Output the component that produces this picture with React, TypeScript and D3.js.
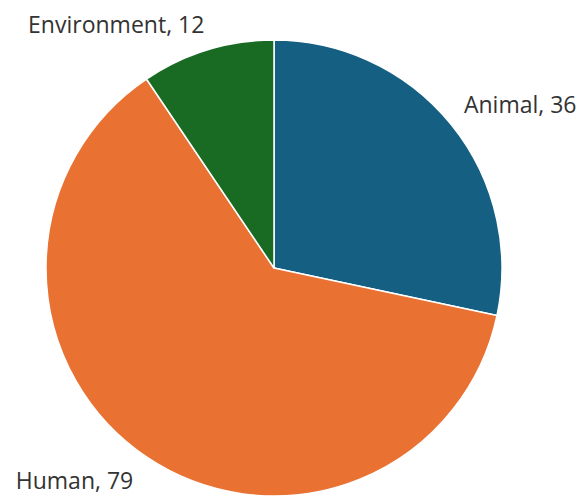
import React from "react";
import * as d3 from "d3";

const categories = ["Animal", "Human", "Environment"];
const values = [36, 79, 12];
const colors = ["#156082", "#E97132", "#196B24"];

const W = 584;
const H = 496;
const cx = 274;
const cy = 268;
const R = 228;
// label offsets relative to radius
const labelOffsets: [number, number][] = [
  [1.08, -0.72],
  [-0.875, 0.93],
  [-0.692, -1.072],
];

export default function App() {
  const data = categories.map((c, i) => ({ c, v: values[i], i }));
  const pie = d3.pie<any>().sort(null).value((d) => d.v);
  const arcs = pie(data);
  const arc = d3.arc<any>().innerRadius(0).outerRadius(R);
  return (
    <svg
      width={W}
      height={H}
      style={{ position: "absolute", left: 0, top: 0, background: "#fff" }}
    >
      <g transform={`translate(${cx},${cy})`}>
        {arcs.map((a, i) => (
          <path
            key={i}
            d={arc(a) as string}
            fill={colors[i]}
            stroke="#fff"
            strokeWidth={1.5}
            strokeLinejoin="round"
          />
        ))}
        {arcs.map((a, i) => (
          <text
            key={"t" + i}
            x={labelOffsets[i][0] * R}
            y={labelOffsets[i][1] * R}
            textAnchor="middle"
            dominantBaseline="central"
            fontFamily="'Open Sans', sans-serif"
            fontSize={23}
            fill="#333"
          >
            {`${categories[i]}, ${values[i]}`}
          </text>
        ))}
      </g>
    </svg>
  );
}
